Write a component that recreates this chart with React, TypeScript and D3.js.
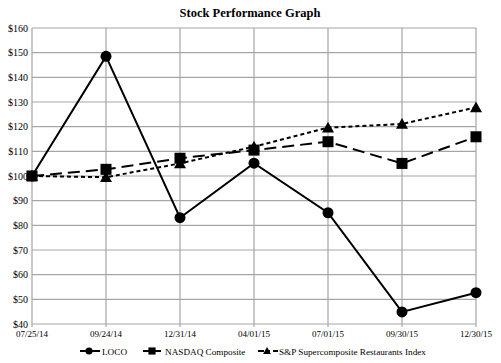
import React from "react";
import * as d3 from "d3";

const categories = ["07/25/14", "09/24/14", "12/31/14", "04/01/15", "07/01/15", "09/30/15", "12/30/15"];
const locoValues = [100, 148.5, 83.1, 105.2, 85.1, 44.9, 52.7];
const nasdaqValues = [100, 102.7, 107.2, 110.5, 113.9, 105.1, 115.9];
const spValues = [100, 99.5, 105.1, 111.9, 119.6, 121.1, 127.8];
const yTicks = [40, 50, 60, 70, 80, 90, 100, 110, 120, 130, 140, 150, 160];
const seriesNames = ["LOCO", "NASDAQ Composite", "S&P Supercomposite Restaurants Index"];

const W = 501, H = 363;
const left = 32, right = 476, top = 28, bottom = 324;
const font = "'Liberation Serif', 'Times New Roman', serif";

export default function App() {
  const x = d3.scalePoint<string>().domain(categories).range([left, right]);
  const y = d3.scaleLinear().domain([40, 160]).range([bottom, top]);
  const line = d3.line<number>().x((_, i) => x(categories[i])!).y((d) => y(d));

  const series = [
    { name: seriesNames[0], values: locoValues, dash: "none", marker: "circle" },
    { name: seriesNames[1], values: nasdaqValues, dash: "12,6", marker: "square" },
    { name: seriesNames[2], values: spValues, dash: "4,3", marker: "triangle" },
  ];

  const marker = (type: string, cx: number, cy: number, key: string | number, s = 1) => {
    if (type === "circle") return <circle key={key} cx={cx} cy={cy} r={5.5 * s} fill="#000" />;
    if (type === "square") return <rect key={key} x={cx - 5.5 * s} y={cy - 5.5 * s} width={11 * s} height={11 * s} fill="#000" />;
    const r = 6 * s;
    return <path key={key} d={`M${cx},${cy - r}L${cx + r},${cy + r * 0.8}L${cx - r},${cy + r * 0.8}Z`} fill="#000" />;
  };

  const legend = [
    { x0: 80, x1: 100, mx: 89, tx: 102, dash: "none" },
    { x0: 143, x1: 161, mx: 152, tx: 165, dash: "none" },
    { x0: 258, x1: 278, mx: 267, tx: 279, dash: "6,3,3,3" },
  ];

  return (
    <svg width={W} height={H} style={{ position: "absolute", left: 0, top: 0, background: "#fff" }} fontFamily={font}>
      <rect width={W} height={H} fill="#fff" />
      <text x={250} y={17} textAnchor="middle" fontSize={12.5} fontWeight="bold" fill="#000">Stock Performance Graph</text>
      {yTicks.map((t) => (
        <g key={t}>
          <line x1={left} x2={right} y1={y(t)} y2={y(t)} stroke="#a6a6a6" strokeWidth={1.2} />
          <text x={left - 4} y={y(t) + 3.5} textAnchor="end" fontSize={10} fill="#000">${t}</text>
        </g>
      ))}
      {categories.map((c) => (
        <g key={c}>
          <line x1={x(c)} x2={x(c)} y1={top} y2={bottom + 3} stroke="#a6a6a6" strokeWidth={1.2} />
          <text x={x(c)} y={bottom + 13} textAnchor="middle" fontSize={9} fill="#000">{c}</text>
        </g>
      ))}
      {series.map((s) => (
        <g key={s.name}>
          <path d={line(s.values)!} fill="none" stroke="#000" strokeWidth={2} strokeDasharray={s.dash} />
          {s.values.map((v, i) => marker(s.marker, x(categories[i])!, y(v), i))}
        </g>
      ))}
      {series.map((s, i) => {
        const L = legend[i];
        const ly = 351;
        return (
          <g key={"lg" + i}>
            <line x1={L.x0} x2={L.x1} y1={ly} y2={ly} stroke="#000" strokeWidth={2} strokeDasharray={L.dash} />
            {marker(s.marker, L.mx, ly, "m", 0.65)}
            <text x={L.tx} y={ly + 3.5} fontSize={9.2} fill="#000">{s.name}</text>
          </g>
        );
      })}
    </svg>
  );
}
